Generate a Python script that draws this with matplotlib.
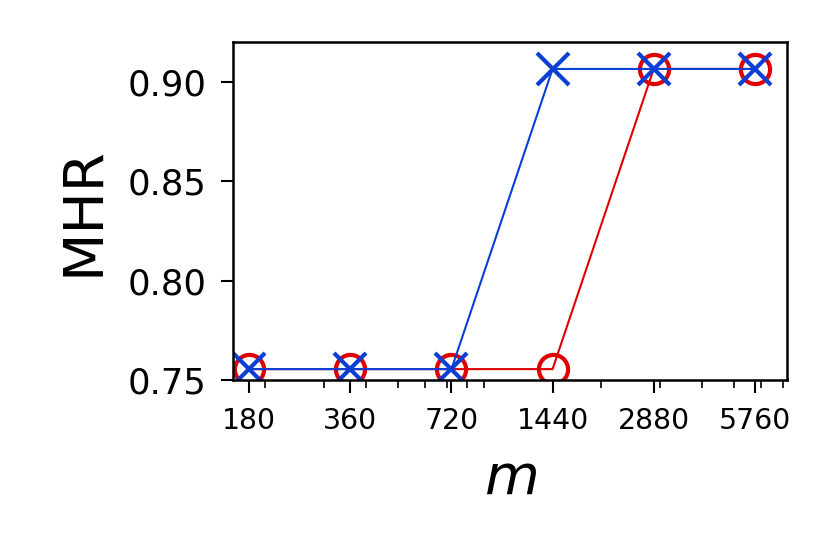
import matplotlib
matplotlib.use("Agg")
import matplotlib.pyplot as plt
from matplotlib.ticker import FixedLocator, FixedFormatter, NullFormatter

m = [180, 360, 720, 1440, 2880, 5760]
red = [0.7555, 0.7555, 0.7555, 0.7555, 0.9065, 0.9065]
blue = [0.7555, 0.7555, 0.7555, 0.9065, 0.9065, 0.9065]
yticks = [0.75, 0.80, 0.85, 0.90]

fig = plt.figure(figsize=(830/300, 554/300), dpi=300)
ax = fig.add_axes([0.281, 0.314, 0.667, 0.61])
ax.plot(m, red, color="#e00000", lw=0.5, marker="o", mfc="none", mec="#e00000", ms=7, mew=1.0)
ax.plot(m, blue, color="#0a3fd6", lw=0.5, marker="x", ms=7.5, mew=1.0)
ax.set_xscale("log")
ax.set_xlim(180*2**(-16/101), 5760*2**(32/101))
ax.set_ylim(0.75, 0.920)
ax.xaxis.set_major_locator(FixedLocator(m))
ax.xaxis.set_major_formatter(FixedFormatter([str(v) for v in m]))
ax.xaxis.set_minor_formatter(NullFormatter())
ax.set_yticks(yticks)
ax.set_yticklabels(["%.2f" % v for v in yticks])
ax.tick_params(axis="x", labelsize=6.8, width=0.5, length=3)
ax.tick_params(axis="x", which="minor", width=0.4, length=1.8)
ax.tick_params(axis="y", labelsize=8.5, width=0.5, length=3)
for s in ax.spines.values():
    s.set_linewidth(0.6)
ax.set_ylabel("MHR", fontsize=13.5)
ax.set_xlabel("$m$", fontsize=13.5)
fig.savefig("out.png", dpi=300)
